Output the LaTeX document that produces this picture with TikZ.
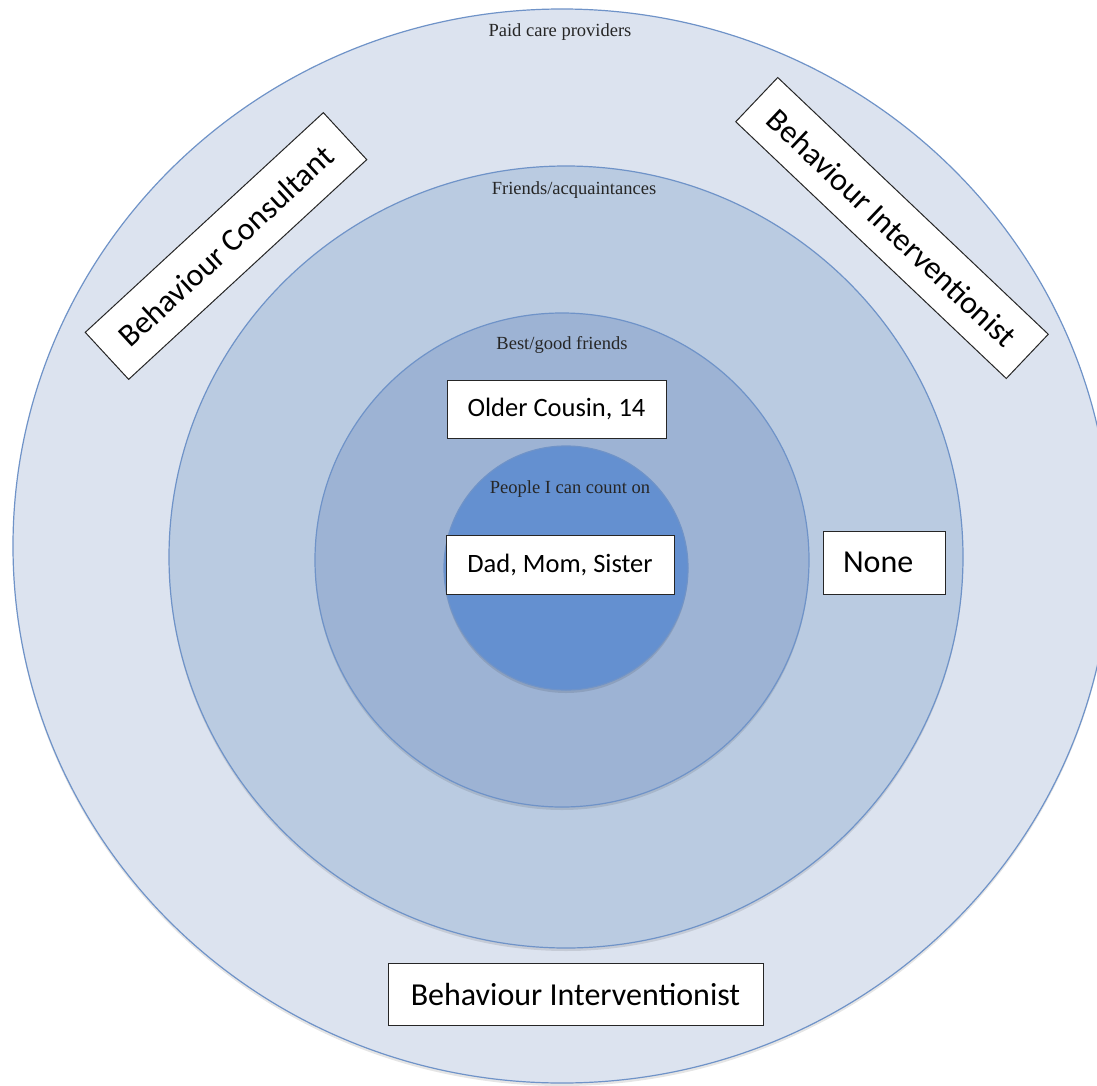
\documentclass[tikz,border=0pt]{standalone}
\usepackage{fontspec}
\setmainfont{Carlito}
\newfontfamily\ringfont{Liberation Serif}
\definecolor{ringline}{HTML}{6F93C8}
\definecolor{ringA}{HTML}{DCE3EF}
\definecolor{ringB}{HTML}{BACBE1}
\definecolor{ringC}{HTML}{9DB3D4}
\definecolor{ringD}{HTML}{6490D0}
\begin{document}
\begin{tikzpicture}[x=1pt,y=-1pt,
  ring/.style={draw=ringline, line width=1.2pt},
  ringshadow/.style={fill=black, opacity=0.10},
  ringlabel/.style={font=\ringfont\fontsize{18.5}{20}\selectfont, inner sep=0pt, text=black!85},
  card/.style={draw=black!85, line width=1pt, fill=white, inner sep=0pt,
    font=\fontsize{32}{36}\selectfont},
  smallcard/.style={card, font=\fontsize{26.5}{30}\selectfont}]
\useasboundingbox (0,0) rectangle (1097,1086);
\clip (0,0) rectangle (1097,1086);
\fill[white] (0,0) rectangle (1097,1086);

% concentric rings, outermost first, each with a faint drop shadow
\fill[ringshadow] (562,549) ellipse [x radius=549pt, y radius=537pt];
\draw[ring, fill=ringA] (562,546) ellipse [x radius=549pt, y radius=537pt];
\fill[ringshadow] (566,560) ellipse [x radius=397pt, y radius=391pt];
\draw[ring, fill=ringB] (566,557) ellipse [x radius=397pt, y radius=391pt];
\fill[ringshadow] (562,563) circle [radius=247pt];
\draw[ring, fill=ringC] (562,560) circle [radius=247pt];
\fill[ringshadow] (566,571) circle [radius=122pt];
\draw[ring, fill=ringD] (566,568) circle [radius=122pt];

% ring titles
\node[ringlabel] (paidlbl) at (560,32) {Paid care providers};
\node[ringlabel] (friendlbl) at (574,190) {Friends/acquaintances};
\node[ringlabel] (bestlbl) at (562,345) {Best/good friends};
\node[ringlabel] (countlbl) at (570,489) {People I can count on};

% entries
\node[smallcard, minimum width=219pt, minimum height=58pt] (cousin) at (556.5,409) {Older Cousin, 14};
\node[smallcard, minimum width=228pt, minimum height=59pt] (family) at (560,564.5) {Dad, Mom, Sister};
\node[card, minimum height=63pt, text width=82pt, inner xsep=20pt, align=left] (none) at (884,562.5) {None};
\node[card, minimum width=375pt, minimum height=62pt] (bottomBI) at (575.5,994) {Behaviour Interventionist};
\node[card, minimum width=324pt, minimum height=64pt, rotate=42.7] (consult) at (226,246) {Behaviour Consultant};
\node[card, minimum width=373pt, minimum height=61pt, rotate=-43.5] (topBI) at (892,228) {Behaviour Interventionist};
\end{tikzpicture}
\end{document}
